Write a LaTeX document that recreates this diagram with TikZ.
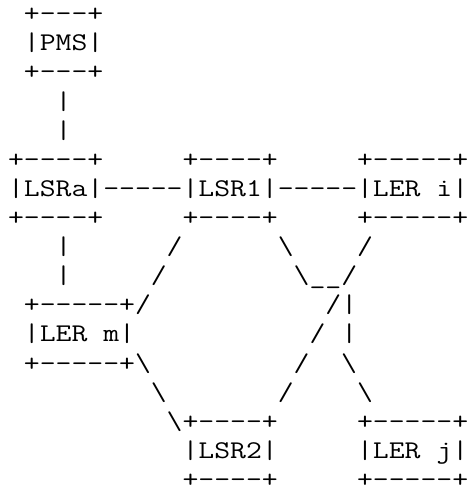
\documentclass[tikz,border=0pt]{standalone}
\usepackage{graphicx}
\newcommand\dsh{-{}}
\newcommand\bsl{\textbackslash}
\newcommand\asl[1]{\scalebox{1.208}[1]{#1}}
\tikzset{
  ascii/.style={anchor=base west, inner sep=0pt, outer sep=0pt,
    font=\ttfamily\fontsize{25.5bp}{25.5bp}\selectfont, text=black}
}
\begin{document}
\begin{tikzpicture}[x=1bp, y=-1bp]
\useasboundingbox[fill=white] (0,0) rectangle (469,492);
\def\lx{8.1}
\def\ly{21.8}
\def\lh{29.1}
\node[ascii] (r1)  at (\lx, \ly+0*\lh) {\asl{~+\dsh\dsh\dsh+}};
\node[ascii] (r2)  at (\lx, \ly+1*\lh) {\asl{~|PMS|}};
\node[ascii] (r3)  at (\lx, \ly+2*\lh) {\asl{~+\dsh\dsh\dsh+}};
\node[ascii] (r4)  at (\lx, \ly+3*\lh) {\asl{~~~|}};
\node[ascii] (r5)  at (\lx, \ly+4*\lh) {\asl{~~~|}};
\node[ascii] (r6)  at (\lx, \ly+5*\lh) {\asl{+\dsh\dsh\dsh\dsh+~~~~~+\dsh\dsh\dsh\dsh+~~~~~+\dsh\dsh\dsh\dsh\dsh+}};
\node[ascii] (r7)  at (\lx, \ly+6*\lh) {\asl{|LSRa|\dsh\dsh\dsh\dsh\dsh|LSR1|\dsh\dsh\dsh\dsh\dsh|LER~i|}};
\node[ascii] (r8)  at (\lx, \ly+7*\lh) {\asl{+\dsh\dsh\dsh\dsh+~~~~~+\dsh\dsh\dsh\dsh+~~~~~+\dsh\dsh\dsh\dsh\dsh+}};
\node[ascii] (r9)  at (\lx, \ly+8*\lh) {\asl{~~~|~~~~~~/~~~~~~\bsl~~~~/}};
\node[ascii] (r10) at (\lx, \ly+9*\lh) {\asl{~~~|~~~~~/~~~~~~~~\bsl\_\_/}};
\node[ascii] (r11) at (\lx, \ly+10*\lh) {\asl{~+\dsh\dsh\dsh\dsh\dsh+/~~~~~~~~~~~/|}};
\node[ascii] (r12) at (\lx, \ly+11*\lh) {\asl{~|LER~m|~~~~~~~~~~~/~|}};
\node[ascii] (r13) at (\lx, \ly+12*\lh) {\asl{~+\dsh\dsh\dsh\dsh\dsh+\bsl~~~~~~~~~/~~\bsl}};
\node[ascii] (r14) at (\lx, \ly+13*\lh) {\asl{~~~~~~~~~\bsl~~~~~~~/~~~~\bsl}};
\node[ascii] (r15) at (\lx, \ly+14*\lh) {\asl{~~~~~~~~~~\bsl+\dsh\dsh\dsh\dsh+~~~~~+\dsh\dsh\dsh\dsh\dsh+}};
\node[ascii] (r16) at (\lx, \ly+15*\lh) {\asl{~~~~~~~~~~~|LSR2|~~~~~|LER~j|}};
\node[ascii] (r17) at (\lx, \ly+16*\lh) {\asl{~~~~~~~~~~~+\dsh\dsh\dsh\dsh+~~~~~+\dsh\dsh\dsh\dsh\dsh+}};
\end{tikzpicture}
\end{document}
